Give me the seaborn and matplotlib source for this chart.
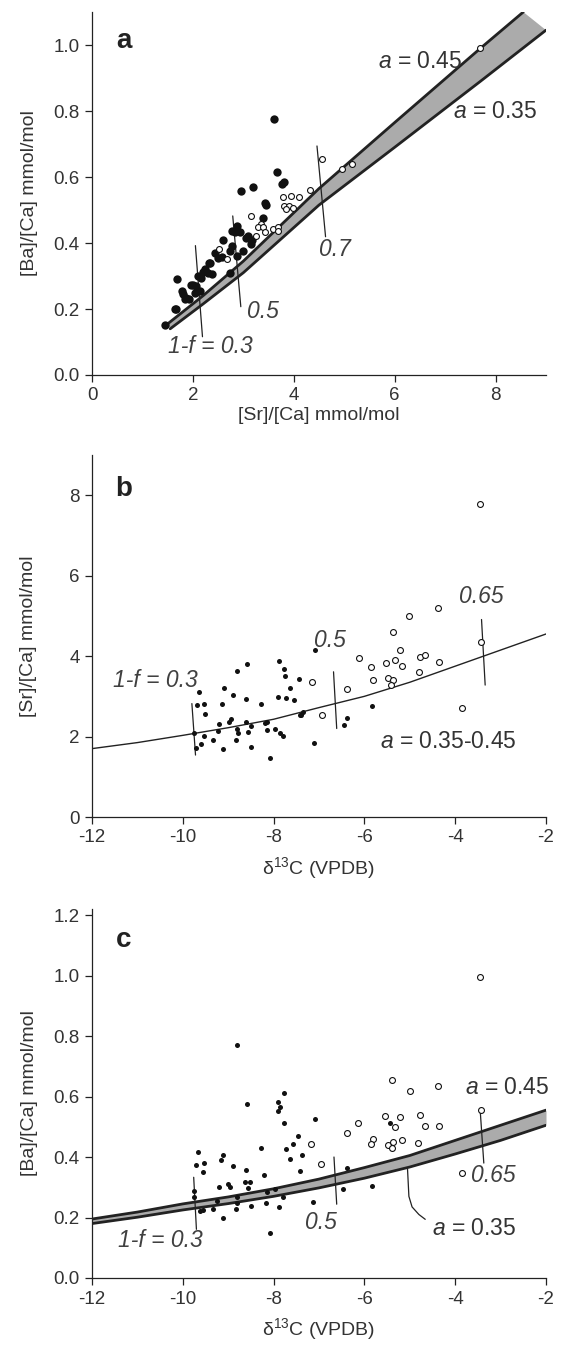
import numpy as np
import pandas as pd
import matplotlib
matplotlib.use("Agg")
import matplotlib.pyplot as plt
import seaborn as sns

# ---------------- data ----------------
# Panel a: [Sr]/[Ca] vs [Ba]/[Ca]
sr_a_filled = [3.61, 3.66, 3.80, 3.76, 2.96, 3.19, 3.45, 3.43, 3.39, 2.88, 2.93, 2.77, 3.10, 3.18,
               3.16, 2.59, 2.77, 2.73, 2.44, 2.50, 2.87, 3.00, 2.32, 2.24, 2.30, 2.37, 2.10, 2.17,
               2.00, 2.07, 2.14, 2.04, 1.69, 1.78, 1.81, 1.84, 1.93, 1.66, 2.73, 1.45, 1.64, 1.87,
               1.97, 2.20, 2.34, 2.57, 3.06, 2.83]
ba_a_filled = [0.775, 0.615, 0.584, 0.578, 0.559, 0.569, 0.515, 0.520, 0.475, 0.450, 0.432, 0.437,
               0.422, 0.410, 0.396, 0.410, 0.391, 0.376, 0.371, 0.356, 0.361, 0.376, 0.340, 0.320,
               0.310, 0.305, 0.300, 0.295, 0.274, 0.270, 0.254, 0.249, 0.290, 0.254, 0.244, 0.229,
               0.231, 0.200, 0.310, 0.151, 0.199, 0.232, 0.273, 0.313, 0.338, 0.357, 0.414, 0.434]
sr_a_open = [4.55, 4.95, 5.15, 4.33, 4.10, 3.94, 3.79, 3.80, 3.91, 3.99, 3.85, 3.16, 3.36, 3.29,
             3.38, 3.43, 3.58, 3.69, 3.69, 3.25, 2.52, 2.67, 7.70]
ba_a_open = [0.655, 0.623, 0.639, 0.562, 0.538, 0.541, 0.538, 0.512, 0.511, 0.506, 0.503, 0.483,
             0.457, 0.447, 0.447, 0.432, 0.442, 0.449, 0.437, 0.422, 0.381, 0.351, 0.990]
# model band (a = 0.45 upper, a = 0.35 lower)
band_a_upper_x = [1.50, 2.20, 3.00, 4.50, 6.00, 7.70, 8.55]
band_a_upper_y = [0.155, 0.240, 0.345, 0.565, 0.765, 0.990, 1.100]
band_a_lower_x = [1.55, 2.20, 3.00, 4.50, 6.00, 7.70, 9.00]
band_a_lower_y = [0.140, 0.215, 0.310, 0.515, 0.690, 0.890, 1.045]
frac_a_labels = ["1-f = 0.3", "0.5", "0.7"]

# Panel b: d13C vs [Sr]/[Ca]
d13c_b_filled = [-9.64, -9.69, -9.53, -9.52, -9.75, -9.54, -9.60, -9.71, -9.33, -9.11, -9.21, -9.22,
                 -9.14, -9.10, -8.89, -8.80, -8.59, -8.99, -8.94, -8.80, -8.78, -8.82, -8.61, -8.56,
                 -8.50, -8.60, -8.49, -8.27, -8.20, -8.14, -8.15, -8.09, -7.96, -7.86, -7.80, -7.89,
                 -7.76, -7.75, -7.90, -7.73, -7.64, -7.56, -7.44, -7.42, -7.08, -7.36, -7.40, -7.12,
                 -6.39, -6.46, -5.83]
sr_b_filled = [3.11, 2.78, 2.82, 2.56, 2.10, 2.02, 1.81, 1.71, 1.91, 1.68, 2.30, 2.14, 2.82, 3.20,
               3.03, 3.64, 3.80, 2.37, 2.43, 2.18, 2.08, 1.91, 2.37, 2.12, 2.26, 2.93, 1.75, 2.82,
               2.34, 2.37, 2.16, 1.47, 2.18, 2.08, 2.02, 3.88, 3.69, 3.50, 2.99, 2.95, 3.21, 2.91,
               3.42, 2.53, 4.15, 2.62, 2.53, 1.83, 2.47, 2.28, 2.76]
d13c_b_open = [-7.16, -6.94, -6.38, -6.12, -5.85, -5.80, -5.53, -5.38, -5.33, -5.21, -5.17, -5.01,
               -5.49, -5.38, -5.41, -4.78, -4.67, -4.80, -4.36, -4.37, -3.85, -3.43, -3.45]
sr_b_open = [3.35, 2.54, 3.19, 3.95, 3.72, 3.40, 3.82, 4.59, 3.90, 4.14, 3.75, 4.99, 3.46, 3.40,
             3.28, 3.97, 4.02, 3.61, 3.85, 5.19, 2.70, 4.36, 7.78]
model_b_x = [-12, -11, -10, -9, -8, -7, -6, -5, -4, -3, -2]
model_b_y = [1.70, 1.85, 2.03, 2.22, 2.43, 2.72, 3.00, 3.35, 3.75, 4.15, 4.55]
frac_b_labels = ["1-f = 0.3", "0.5", "0.65"]

# Panel c: d13C vs [Ba]/[Ca]
d13c_c_filled = [-8.81, -8.59, -7.78, -7.90, -7.86, -7.90, -7.77, -7.09, -7.46, -7.57, -7.73, -8.28,
                 -7.37, -7.64, -9.66, -9.71, -9.53, -9.55, -9.11, -9.15, -8.90, -8.61, -7.41, -8.21,
                 -9.21, -9.00, -8.96, -8.63, -8.52, -8.57, -8.80, -8.80, -9.24, -9.75, -9.75, -9.62,
                 -9.56, -9.34, -9.12, -8.83, -8.50, -8.15, -8.16, -7.97, -7.88, -7.80, -7.13, -8.09,
                 -6.47, -6.39, -5.83, -5.44]
ba_c_filled = [0.770, 0.574, 0.611, 0.581, 0.566, 0.553, 0.512, 0.527, 0.470, 0.444, 0.428, 0.430,
               0.406, 0.392, 0.417, 0.375, 0.380, 0.349, 0.406, 0.390, 0.371, 0.357, 0.354, 0.340,
               0.302, 0.311, 0.300, 0.317, 0.317, 0.296, 0.269, 0.248, 0.253, 0.289, 0.269, 0.222,
               0.225, 0.228, 0.200, 0.228, 0.239, 0.283, 0.248, 0.294, 0.235, 0.269, 0.251, 0.148,
               0.294, 0.364, 0.303, 0.512]
d13c_c_open = [-7.17, -6.95, -3.45, -5.39, -5.00, -4.37, -3.43, -6.13, -6.38, -5.54, -5.22, -5.33,
               -4.78, -4.67, -4.36, -5.80, -5.85, -5.47, -5.40, -5.36, -5.18, -4.81, -3.86]
ba_c_open = [0.443, 0.377, 0.994, 0.654, 0.619, 0.636, 0.557, 0.512, 0.480, 0.536, 0.533, 0.499,
             0.540, 0.503, 0.504, 0.458, 0.443, 0.441, 0.430, 0.449, 0.455, 0.447, 0.348]
band_c_x = [-12, -11, -10, -9, -8, -7, -6, -5, -4, -3, -2]
band_c_upper = [0.195, 0.218, 0.245, 0.268, 0.295, 0.327, 0.365, 0.405, 0.455, 0.505, 0.555]
band_c_lower = [0.180, 0.201, 0.225, 0.246, 0.270, 0.298, 0.330, 0.367, 0.410, 0.455, 0.505]
frac_c_labels = ["1-f = 0.3", "0.5", "0.65"]

# ---------------- style ----------------
sns.set_theme(style="ticks")
plt.rcParams['font.family'] = ['Liberation Sans', 'DejaVu Sans']
plt.rcParams['mathtext.fontset'] = 'custom'
plt.rcParams['mathtext.rm'] = 'Liberation Sans'
plt.rcParams['mathtext.it'] = 'Liberation Sans:italic'
plt.rcParams['axes.unicode_minus'] = False
TXT = '#333333'
plt.rcParams.update({
    'axes.edgecolor': '#222222', 'axes.linewidth': 0.9,
    'xtick.color': '#222222', 'ytick.color': '#222222',
    'xtick.labelcolor': TXT, 'ytick.labelcolor': TXT,
    'xtick.major.size': 5, 'ytick.major.size': 5,
    'xtick.major.width': 0.9, 'ytick.major.width': 0.9,
    'xtick.major.pad': 4, 'ytick.major.pad': 4,
    'xtick.labelsize': 13.5, 'ytick.labelsize': 13.5,
    'axes.labelsize': 14, 'axes.labelcolor': TXT,
})

W, H = 563, 1347
fig = plt.figure(figsize=(W / 100, H / 100), dpi=100)


def make_ax(left, right, top, bottom):
    return fig.add_axes([left / W, 1 - bottom / H, (right - left) / W, (bottom - top) / H])


ax_a = make_ax(92, 546, 12, 375)
ax_b = make_ax(92, 546, 455, 817)
ax_c = make_ax(92, 546, 909, 1278)

FILL = '#ababab'
LINE = '#222222'
ANN = dict(fontsize=16.5, style='italic', color='#404040', ha='center', va='center')
ANN_A = dict(fontsize=16.5, color=TXT, ha='center', va='center')


def scatter(ax, x, y, filled, s):
    df = pd.DataFrame({'x': x, 'y': y})
    if filled:
        sns.scatterplot(data=df, x='x', y='y', ax=ax, color='#111111', s=s, linewidth=0,
                        zorder=4, legend=False)
    else:
        sns.scatterplot(data=df, x='x', y='y', ax=ax, color='white', edgecolor='#111111',
                        s=s, linewidth=0.8, zorder=4, legend=False)


# ---------------- panel a ----------------
ax = ax_a
poly_x = band_a_upper_x + band_a_lower_x[::-1]
poly_y = band_a_upper_y + band_a_lower_y[::-1]
ax.fill(poly_x, poly_y, color=FILL, zorder=2, lw=0)
sns.lineplot(x=band_a_upper_x, y=band_a_upper_y, ax=ax, color=LINE, lw=2.0, zorder=3, sort=False)
sns.lineplot(x=band_a_lower_x, y=band_a_lower_y, ax=ax, color=LINE, lw=2.0, zorder=3, sort=False)
scatter(ax, sr_a_filled, ba_a_filled, True, 36)
scatter(ax, sr_a_open, ba_a_open, False, 18)
for (x0, y0, x1, y1) in [(2.05, 0.392, 2.19, 0.116), (2.79, 0.482, 2.95, 0.207), (4.46, 0.694, 4.63, 0.419)]:
    ax.plot([x0, x1], [y0, y1], color=LINE, lw=0.9, zorder=3)
for lab, (tx, ty) in zip(frac_a_labels, [(2.35, 0.086), (3.39, 0.192), (4.81, 0.379)]):
    ax.text(tx, ty, lab, **ANN)
ax.text(6.5, 0.95, '$a$ = 0.45', **ANN_A)
ax.text(8.0, 0.80, '$a$ = 0.35', **ANN_A)
ax.set_xlim(0, 9)
ax.set_ylim(0, 1.1)
ax.set_xticks([0, 2, 4, 6, 8])
ax.set_yticks([0, 0.2, 0.4, 0.6, 0.8, 1.0])
ax.set_yticklabels([f'{v:.1f}' for v in [0, 0.2, 0.4, 0.6, 0.8, 1.0]])
ax.set_xlabel('[Sr]/[Ca] mmol/mol', labelpad=2)
ax.set_ylabel('[Ba]/[Ca] mmol/mol', labelpad=11)
ax.text(0.07, 0.92, 'a', transform=ax.transAxes, fontsize=20, fontweight='bold',
        color='#222222', ha='center', va='center')

# ---------------- panel b ----------------
ax = ax_b
sns.lineplot(x=model_b_x, y=model_b_y, ax=ax, color=LINE, lw=1.0, zorder=3)
scatter(ax, d13c_b_filled, sr_b_filled, True, 13)
scatter(ax, d13c_b_open, sr_b_open, False, 18)
for (x0, y0, x1, y1) in [(-9.80, 2.82, -9.72, 1.54), (-6.68, 3.61, -6.61, 2.20), (-3.42, 4.91, -3.34, 3.28)]:
    ax.plot([x0, x1], [y0, y1], color=LINE, lw=0.9, zorder=3)
for lab, (tx, ty) in zip(frac_b_labels, [(-10.61, 3.40), (-6.76, 4.40), (-3.42, 5.47)]):
    ax.text(tx, ty, lab, **ANN)
ax.text(-4.15, 1.87, '$a$ = 0.35-0.45', **ANN_A)
ax.set_xlim(-12, -2)
ax.set_ylim(0, 9)
ax.set_xticks([-12, -10, -8, -6, -4, -2])
ax.set_yticks([0, 2, 4, 6, 8])
ax.set_xlabel('δ$^{13}$C (VPDB)', labelpad=6)
ax.set_ylabel('[Sr]/[Ca] mmol/mol', labelpad=23)
ax.text(0.07, 0.905, 'b', transform=ax.transAxes, fontsize=20, fontweight='bold',
        color='#222222', ha='center', va='center')

# ---------------- panel c ----------------
ax = ax_c
ax.fill_between(band_c_x, band_c_lower, band_c_upper, color=FILL, zorder=2, lw=0)
sns.lineplot(x=band_c_x, y=band_c_upper, ax=ax, color=LINE, lw=2.0, zorder=3)
sns.lineplot(x=band_c_x, y=band_c_lower, ax=ax, color=LINE, lw=2.0, zorder=3)
scatter(ax, d13c_c_filled, ba_c_filled, True, 13)
scatter(ax, d13c_c_open, ba_c_open, False, 18)
for (x0, y0, x1, y1) in [(-9.76, 0.333, -9.70, 0.161), (-6.67, 0.40, -6.61, 0.244), (-3.45, 0.555, -3.37, 0.38)]:
    ax.plot([x0, x1], [y0, y1], color=LINE, lw=0.9, zorder=3)
ax.plot([-5.05, -5.02, -4.95, -4.80, -4.66], [0.36, 0.27, 0.235, 0.21, 0.194], color=LINE, lw=0.9, zorder=3)
for lab, (tx, ty) in zip(frac_c_labels, [(-10.49, 0.125), (-6.96, 0.183), (-3.17, 0.339)]):
    ax.text(tx, ty, lab, **ANN)
ax.text(-2.86, 0.63, '$a$ = 0.45', **ANN_A)
ax.text(-3.58, 0.164, '$a$ = 0.35', **ANN_A)
ax.set_xlim(-12, -2)
ax.set_ylim(0, 1.22)
ax.set_xticks([-12, -10, -8, -6, -4, -2])
ax.set_yticks([0, 0.2, 0.4, 0.6, 0.8, 1.0, 1.2])
ax.set_yticklabels([f'{v:.1f}' for v in [0, 0.2, 0.4, 0.6, 0.8, 1.0, 1.2]])
ax.set_xlabel('δ$^{13}$C (VPDB)', labelpad=6)
ax.set_ylabel('[Ba]/[Ca] mmol/mol', labelpad=11)
ax.text(0.07, 0.915, 'c', transform=ax.transAxes, fontsize=20, fontweight='bold',
        color='#222222', ha='center', va='center')

for ax in (ax_a, ax_b, ax_c):
    sns.despine(ax=ax)

fig.savefig('out.png', dpi=100)
